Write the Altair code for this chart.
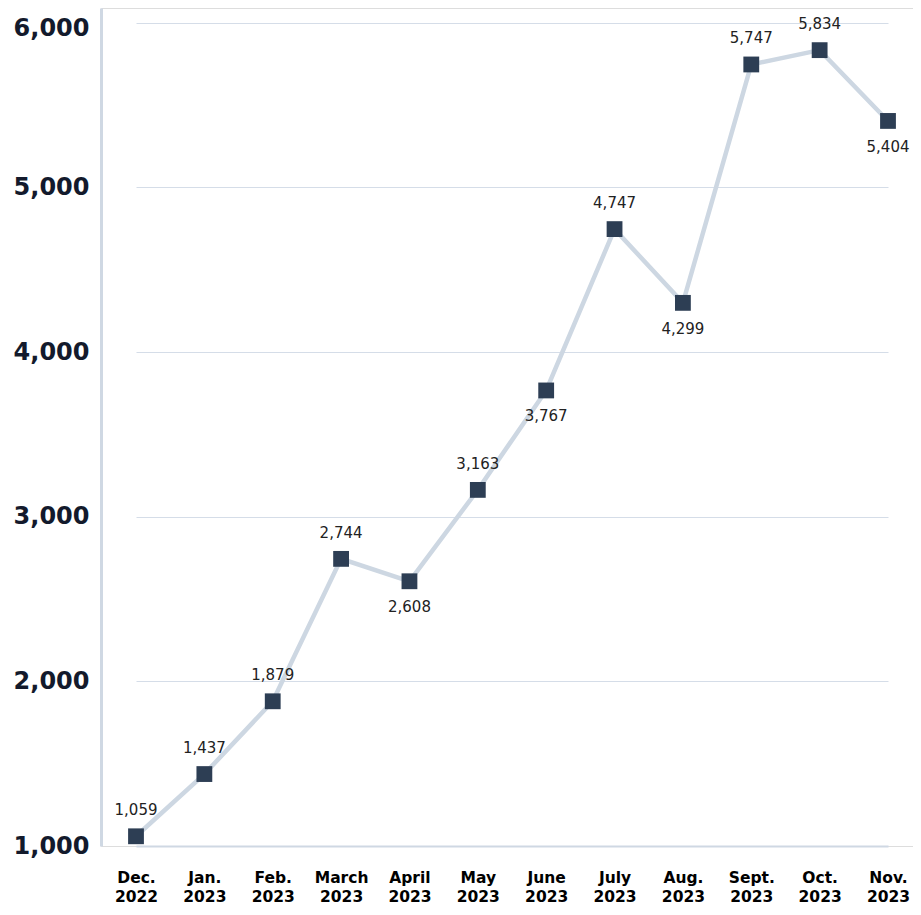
import altair as alt
import pandas as pd

months = ["Dec. 2022", "Jan. 2023", "Feb. 2023", "March 2023", "April 2023", "May 2023",
          "June 2023", "July 2023", "Aug. 2023", "Sept. 2023", "Oct. 2023", "Nov. 2023"]
values = [1059, 1437, 1879, 2744, 2608, 3163, 3767, 4747, 4299, 5747, 5834, 5404]
label_pos = ["above", "above", "above", "above", "below", "above",
             "below", "above", "below", "above", "above", "below"]
y_ticks = [1000, 2000, 3000, 4000, 5000, 6000]

df = pd.DataFrame({"month": months, "value": values, "pos": label_pos})

FONT = "DejaVu Sans"

x = alt.X("month:N", sort=months, title=None,
          scale=alt.Scale(type="point", range=[35, 787], padding=0),
          axis=alt.Axis(labelAngle=0, labelExpr="split(datum.label, ' ')",
                        labelFont=FONT, labelFontSize=15.5, labelFontWeight="bold",
                        labelColor="#000000", labelLineHeight=19, labelPadding=24,
                        ticks=False, domainColor="#cfd8e3", domainWidth=2, grid=False))
y = alt.Y("value:Q", title=None,
          scale=alt.Scale(domain=[1000, 6090], nice=False, zero=False),
          axis=alt.Axis(values=y_ticks, labelExpr="format(datum.value, ',')",
                        labelFont=FONT, labelFontSize=24,
                        labelFontWeight="bold", labelColor="#131a2c", labelPadding=12,
                        labelOffset={"condition": {"test": "datum.value == 6000", "value": 6}, "value": 0},
                        ticks=False, domainColor="#cfd8e3", domainWidth=3,
                        gridColor="#d5dde8", gridWidth=1))

base = alt.Chart(df)
line = base.mark_line(color="#cdd7e2", strokeWidth=4.5).encode(x=x, y=y)
pts = base.mark_square(color="#2d3e54", size=250, opacity=1).encode(x=x, y=y)
above = base.transform_filter("datum.pos == 'above'").mark_text(
    dy=-26, fontSize=15, font=FONT, color="#222222").encode(
    x=x, y=y, text=alt.Text("value:Q", format=","))
below = base.transform_filter("datum.pos == 'below'").mark_text(
    dy=26, fontSize=15, font=FONT, color="#222222").encode(
    x=x, y=y, text=alt.Text("value:Q", format=","))

chart = alt.layer(line, pts, above, below).properties(
    width=812, height=838,
    autosize=alt.AutoSizeParams(type="none"),
    padding={"left": 93, "top": 0, "right": 0, "bottom": 61},
).configure_view(stroke=None).configure(background="white")

chart.save("out.html", embed_options={"renderer": "svg", "actions": False})
